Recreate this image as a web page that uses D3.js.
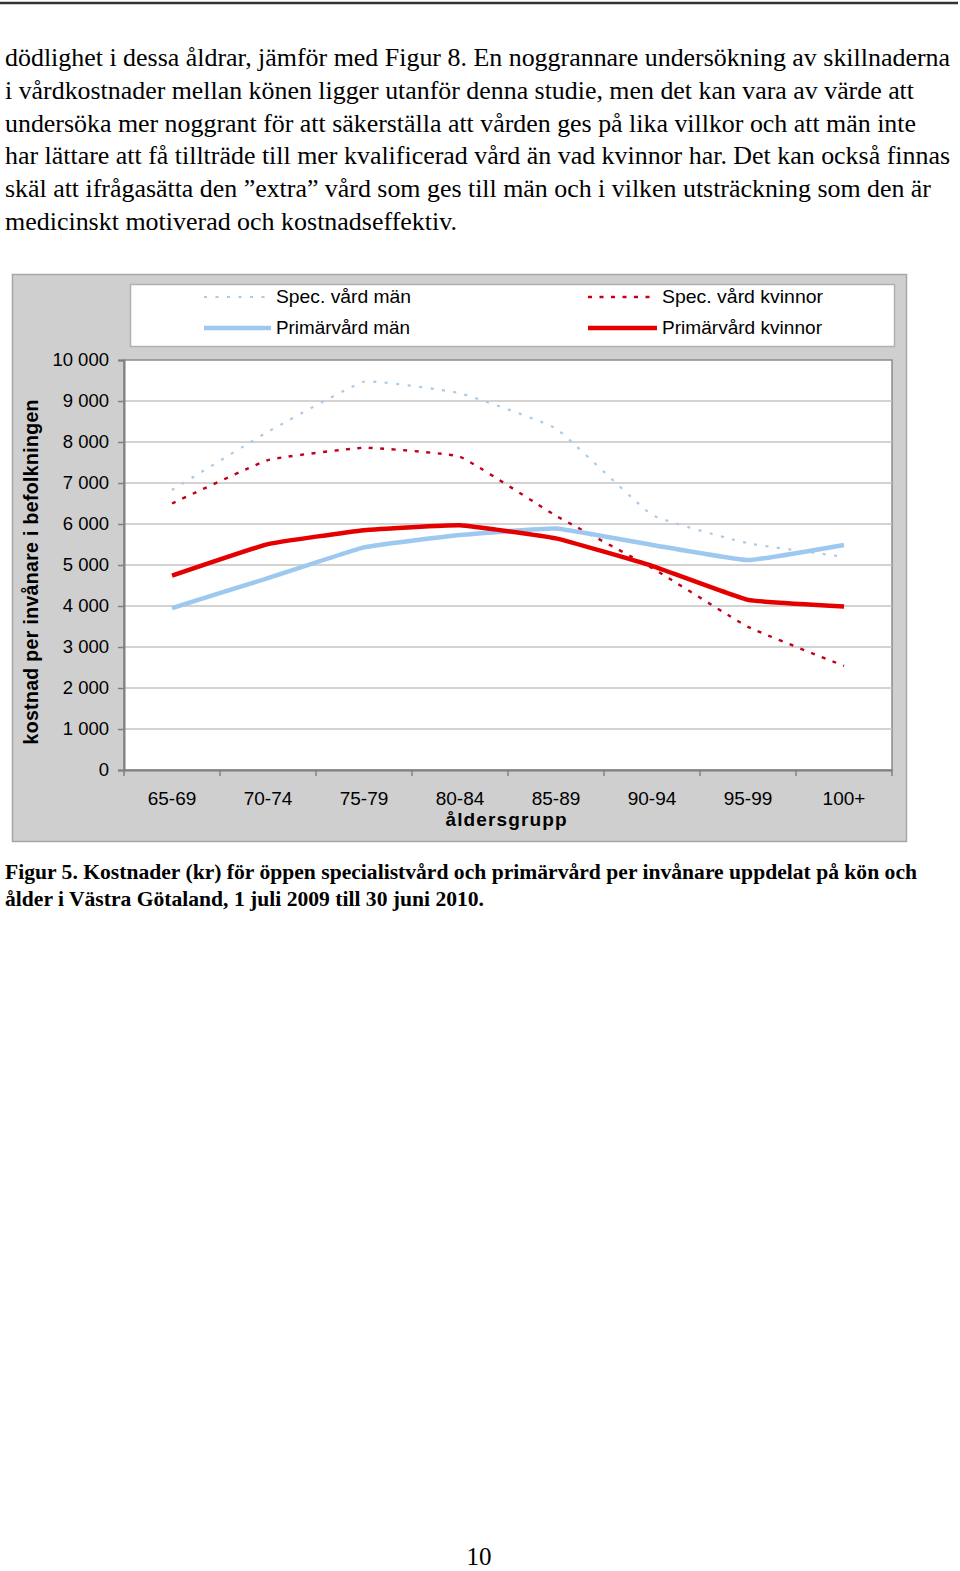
<!DOCTYPE html>
<html><head><meta charset="utf-8">
<script src="https://cdn.jsdelivr.net/npm/d3@7/dist/d3.min.js"></script>
<style>html,body{margin:0;padding:0;background:#fff;}svg{display:block;}</style>
</head><body>
<svg id="page" width="960" height="1571"></svg>
<script>
// ---- data ----
const ageGroups = ["65-69","70-74","75-79","80-84","85-89","90-94","95-99","100+"];
const specMan      = [6830, 8250, 9470, 9190, 8330, 6220, 5530, 5200];
const specKvinnor  = [6500, 7560, 7860, 7640, 6200, 4930, 3490, 2540];
const primMan      = [3950, 4680, 5430, 5730, 5890, 5490, 5120, 5490];
const primKvinnor  = [4740, 5510, 5850, 5970, 5650, 4980, 4150, 3990];
const yTicks = [0,1000,2000,3000,4000,5000,6000,7000,8000,9000,10000];
const seriesNames = ["Spec. vård män","Spec. vård kvinnor","Primärvård män","Primärvård kvinnor"];
const paragraph = [
 "dödlighet i dessa åldrar, jämför med Figur 8. En noggrannare undersökning av skillnaderna",
 "i vårdkostnader mellan könen ligger utanför denna studie, men det kan vara av värde att",
 "undersöka mer noggrant för att säkerställa att vården ges på lika villkor och att män inte",
 "har lättare att få tillträde till mer kvalificerad vård än vad kvinnor har. Det kan också finnas",
 "skäl att ifrågasätta den ”extra” vård som ges till män och i vilken utsträckning som den är",
 "medicinskt motiverad och kostnadseffektiv."
];
const caption = [
 "Figur 5. Kostnader (kr) för öppen specialistvård och primärvård per invånare uppdelat på kön och",
 "ålder i Västra Götaland, 1 juli 2009 till 30 juni 2010."
];
const yTitle = "kostnad per invånare i befolkningen";
const xTitle = "åldersgrupp";
const pageNum = "10";

// ---- layout ----
const svg = d3.select("#page");
svg.append("rect").attr("width",960).attr("height",1571).attr("fill","#fff");
svg.append("line").attr("x1",0).attr("x2",958).attr("y1",3).attr("y2",3)
  .attr("stroke","#333").attr("stroke-width",2.5);

const parWidths = [945, 909, 911, 945, 926, 452];
paragraph.forEach((t,i)=>{
  svg.append("text").attr("x",5).attr("y",66+i*32.8)
    .attr("font-family","'Liberation Serif','Times New Roman',serif")
    .attr("font-size",25.5).attr("fill","#000")
    .attr("textLength",parWidths[i]).attr("lengthAdjust","spacingAndGlyphs")
    .text(t);
});
const capWidths = [912, 479];
caption.forEach((t,i)=>{
  svg.append("text").attr("x",5).attr("y",879+i*27)
    .attr("font-family","'Liberation Serif','Times New Roman',serif")
    .attr("font-weight","bold").attr("font-size",21).attr("fill","#000")
    .attr("textLength",capWidths[i]).attr("lengthAdjust","spacingAndGlyphs")
    .text(t);
});
svg.append("text").attr("x",479).attr("y",1565).attr("text-anchor","middle")
  .attr("font-family","'Liberation Serif','Times New Roman',serif")
  .attr("font-size",25).text(pageNum);

// chart frame
svg.append("rect").attr("x",12.5).attr("y",274.5).attr("width",894).attr("height",567)
  .attr("fill","#cfcfcf").attr("stroke","#a6a6a6").attr("stroke-width",1.5);
// legend box
svg.append("rect").attr("x",130.5).attr("y",284.5).attr("width",764).attr("height",62)
  .attr("fill","#fff").attr("stroke","#b0b0b0").attr("stroke-width",1.5);

const L = 124, R = 892, T = 360, B = 770;
const x = d3.scaleBand().domain(ageGroups).range([L,R]);
const y = d3.scaleLinear().domain([0,10000]).range([B,T]);

svg.append("rect").attr("x",L).attr("y",T).attr("width",R-L).attr("height",B-T)
  .attr("fill","#fff").attr("stroke","#8c8c8c").attr("stroke-width",1.5);

const fmt = d3.formatLocale({decimal:",",thousands:" ",grouping:[3],currency:["","kr"]}).format(",");
const g = svg.append("g");
// gridlines
g.selectAll("line.grid").data(yTicks.filter(d=>d>0 && d<10000)).join("line")
  .attr("x1",L).attr("x2",R).attr("y1",d=>y(d)).attr("y2",d=>y(d))
  .attr("stroke","#c4c4c4").attr("stroke-width",1.5);

// y axis
const yAxis = svg.append("g").attr("transform",`translate(${L},0)`)
  .call(d3.axisLeft(y).tickValues(yTicks).tickFormat(fmt).tickSize(6).tickPadding(9));
yAxis.select(".domain").attr("stroke","#808080").attr("stroke-width",2);
yAxis.selectAll(".tick line").attr("stroke","#808080").attr("stroke-width",1.5);
yAxis.selectAll("text").attr("font-family","'Liberation Sans',Arial,sans-serif")
  .attr("font-size",18.5).attr("fill","#000");

// x axis
const xAxis = svg.append("g").attr("transform",`translate(0,${B})`)
  .call(d3.axisBottom(x).tickSize(0).tickPadding(22));
xAxis.select(".domain").attr("stroke","#808080").attr("stroke-width",2);
xAxis.selectAll("text").attr("font-family","'Liberation Sans',Arial,sans-serif")
  .attr("font-size",19).attr("fill","#000");
const bounds = ageGroups.map(d=>x(d)).concat([x(ageGroups[ageGroups.length-1])+x.bandwidth()]);
svg.append("g").selectAll("line").data(bounds).join("line")
  .attr("x1",d=>d).attr("x2",d=>d).attr("y1",B).attr("y2",B+6)
  .attr("stroke","#808080").attr("stroke-width",1.5);

// axis titles
svg.append("text").attr("x",506).attr("y",826).attr("text-anchor","middle")
  .attr("font-family","'Liberation Sans',Arial,sans-serif").attr("font-weight","bold")
  .attr("font-size",19).attr("textLength",121).attr("lengthAdjust","spacing").text(xTitle);
svg.append("text").attr("transform","translate(38,572) rotate(-90)").attr("text-anchor","middle")
  .attr("font-family","'Liberation Sans',Arial,sans-serif").attr("font-weight","bold")
  .attr("font-size",19.5).attr("textLength",345).attr("lengthAdjust","spacing").text(yTitle);

// series
const styles = {
  "Spec. vård män":     {data:specMan,     color:"#a9cbe8", width:2.2, dash:"3,8.5"},
  "Spec. vård kvinnor": {data:specKvinnor, color:"#c0001c", width:2.4, dash:"4,7.5"},
  "Primärvård män":     {data:primMan,     color:"#9dc8ef", width:4.5, dash:null},
  "Primärvård kvinnor": {data:primKvinnor, color:"#e50000", width:4.5, dash:null}
};
const line = d3.line().x((d,i)=>x(ageGroups[i])+x.bandwidth()/2).y(d=>y(d))
  .curve(d3.curveCardinal.tension(0.7));
["Spec. vård män","Spec. vård kvinnor","Primärvård män","Primärvård kvinnor"].forEach(n=>{
  const s = styles[n];
  svg.append("path").datum(s.data).attr("d",line).attr("fill","none")
    .attr("stroke",s.color).attr("stroke-width",s.width)
    .attr("stroke-dasharray",s.dash).attr("stroke-linecap","butt")
    .attr("stroke-linejoin","round");
});

// legend
const legendPos = {
  "Spec. vård män":     {x1:204, x2:271, y:297, w:135},
  "Primärvård män":     {x1:204, x2:271, y:328, w:134},
  "Spec. vård kvinnor": {x1:588, x2:657, y:297, w:161},
  "Primärvård kvinnor": {x1:588, x2:657, y:328, w:160}
};
seriesNames.forEach(n=>{
  const s = styles[n], p = legendPos[n];
  svg.append("line").attr("x1",p.x1).attr("x2",p.x2).attr("y1",p.y).attr("y2",p.y)
    .attr("stroke",s.color).attr("stroke-width",s.width).attr("stroke-dasharray",s.dash);
  svg.append("text").attr("x",p.x2+5).attr("y",p.y).attr("dy","0.35em")
    .attr("font-family","'Liberation Sans',Arial,sans-serif").attr("font-size",18.5)
    .attr("textLength",p.w).attr("lengthAdjust","spacingAndGlyphs")
    .attr("fill","#000").text(n);
});
</script>
</body></html>
